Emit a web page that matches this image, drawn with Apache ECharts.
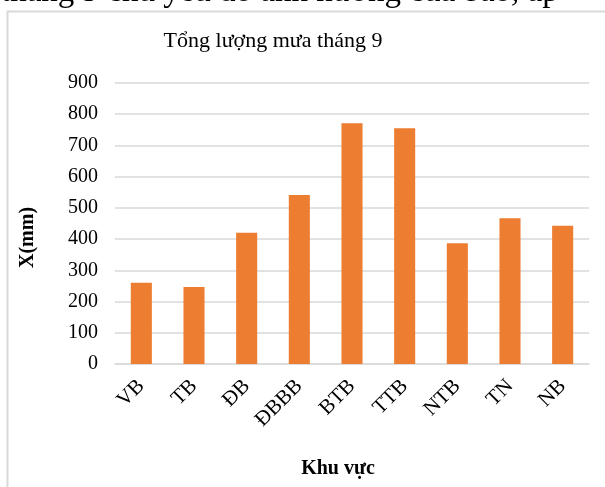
<!DOCTYPE html>
<html>
<head>
<meta charset="utf-8">
<script src="https://cdn.jsdelivr.net/npm/echarts@6/dist/echarts.min.js"></script>
<style>
  html, body { margin: 0; padding: 0; background: #fff; }
  #main { width: 605px; height: 487px; }
</style>
</head>
<body>
<div id="main"></div>
<script>
var regions = ["VB", "TB", "ĐB", "ĐBBB", "BTB", "TTB", "NTB", "TN", "NB"];
var rainfall = [260, 247, 420, 541, 771, 755, 387, 467, 443];
var yTicks = { min: 0, max: 900, step: 100 };

var serif = "'Liberation Serif', 'Times New Roman', serif";

var chart = echarts.init(document.getElementById("main"));

var option = {
  animation: false,
  title: {
    text: "Tổng lượng mưa tháng 9",
    left: 268,
    top: 25,
    textAlign: "center",
    textStyle: {
      fontFamily: serif,
      fontSize: 22,
      fontWeight: "normal",
      color: "#000",
    },
  },
  graphic: [
    // khung bao quanh biểu đồ (chỉ thấy cạnh trái và trên)
    {
      type: "rect",
      shape: { x: 7.5, y: 11.5, width: 700, height: 600 },
      style: { fill: null, stroke: "#d9d9d9", lineWidth: 2 },
      silent: true,
    },
    // dòng chữ bị cắt ở phía trên
    {
      type: "text",
      left: 1,
      top: -24,
      style: {
        text: "tháng 9 chủ yếu do ảnh hưởng của bão, áp",
        fontFamily: serif,
        fontSize: 33,
        fill: "#000",
      },
      silent: true,
    },
  ],
  grid: {
    left: 115,
    right: 16,
    top: 83,
    bottom: 123,
  },
  xAxis: {
    type: "category",
    data: regions,
    name: "Khu vực",
    nameLocation: "middle",
    nameGap: 95,
    nameTextStyle: {
      fontFamily: serif,
      fontSize: 20,
      fontWeight: "bold",
      color: "#000",
      padding: [0, 28, 0, 0],
    },
    axisLine: { lineStyle: { color: "#d9d9d9", width: 1.5 } },
    axisTick: { show: false },
    axisLabel: {
      rotate: 45,
      margin: 19,
      fontFamily: serif,
      fontSize: 21,
      color: "#000",
    },
  },
  yAxis: {
    type: "value",
    min: yTicks.min,
    max: yTicks.max,
    interval: yTicks.step,
    name: "X(mm)",
    nameLocation: "middle",
    nameGap: 77,
    nameTextStyle: {
      fontFamily: serif,
      fontSize: 20,
      fontWeight: "bold",
      color: "#000",
      padding: [0, 28, 0, 0],
    },
    axisLine: { show: false },
    axisTick: { show: false },
    axisLabel: {
      margin: 17,
      fontFamily: serif,
      fontSize: 20,
      color: "#000",
    },
    splitLine: { lineStyle: { color: "#d9d9d9", width: 1.5 } },
  },
  series: [
    {
      name: "Tổng lượng mưa",
      type: "bar",
      data: rainfall,
      barWidth: "40%",
      itemStyle: { color: "#ED7D31" },
    },
  ],
};

chart.setOption(option);
</script>
</body>
</html>
